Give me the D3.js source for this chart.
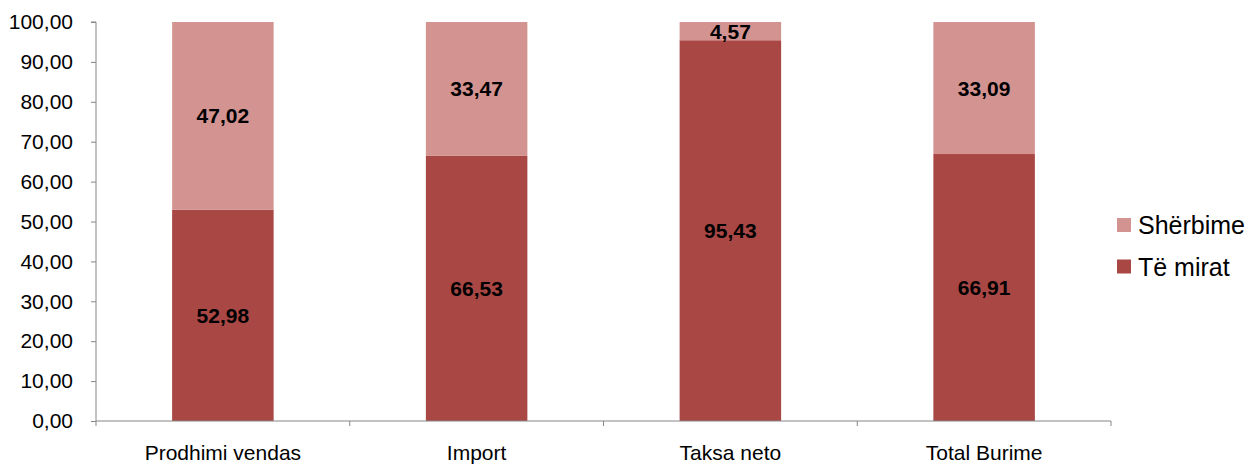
<!DOCTYPE html>
<html>
<head>
<meta charset="utf-8">
<script src="https://cdn.jsdelivr.net/npm/d3@7"></script>
<style>
  body { margin: 0; background: #fff; }
  svg text { font-family: "Liberation Sans", Arial, sans-serif; }
</style>
</head>
<body>
<svg id="chart" width="1254" height="466"></svg>
<script>
// Data.
const categories = ['Prodhimi vendas', 'Import', 'Taksa neto', 'Total Burime'];
const teMirat = [52.98, 66.53, 95.43, 66.91];
const sherbime = [47.02, 33.47, 4.57, 33.09];
const seriesNames = ['Shërbime', 'Të mirat'];
const yTicks = [0, 10, 20, 30, 40, 50, 60, 70, 80, 90, 100];

const colors = {dark: '#a94745', light: '#d39391'};
const margin = {top: 22, left: 96, right: 143, bottom: 45};
const width = 1254 - margin.left - margin.right;
const height = 466 - margin.top - margin.bottom;

const fmt = (v) => v.toFixed(2).replace('.', ',');

const svg = d3.select('#chart');
const g = svg.append('g').attr('transform', `translate(${margin.left}, ${margin.top})`);

const x = d3.scaleBand().domain(categories).range([0, width]).paddingInner(0.6).paddingOuter(0.3);
const y = d3.scaleLinear().domain([0, 100]).range([height, 0]);

// Stack: goods at the bottom, services on top.
const rows = categories.map((c, i) => ({cat: c, base: 0, top: teMirat[i], v: teMirat[i], color: colors.dark}))
  .concat(categories.map((c, i) => ({cat: c, base: teMirat[i], top: teMirat[i] + sherbime[i], v: sherbime[i], color: colors.light})));

g.selectAll('rect.bar').data(rows).join('rect')
  .attr('class', 'bar')
  .attr('x', (d) => x(d.cat))
  .attr('width', x.bandwidth())
  .attr('y', (d) => y(d.top))
  .attr('height', (d) => y(d.base) - y(d.top))
  .attr('fill', (d) => d.color);

g.selectAll('text.val').data(rows).join('text')
  .attr('class', 'val')
  .attr('x', (d) => x(d.cat) + x.bandwidth() / 2)
  .attr('y', (d) => y((d.base + d.top) / 2))
  .attr('dy', '0.36em')
  .attr('text-anchor', 'middle')
  .attr('font-weight', 'bold')
  .attr('font-size', 21)
  .attr('fill', '#000')
  .text((d) => fmt(d.v));

// Y axis.
const yAxis = g.append('g')
  .call(d3.axisLeft(y).tickValues(yTicks).tickFormat(fmt).tickSize(5).tickPadding(18));
yAxis.select('.domain').attr('stroke', '#868686').attr('d', `M-5,0H0V${height}`);
yAxis.selectAll('.tick line').attr('stroke', '#868686');
yAxis.selectAll('text').attr('font-size', 21).attr('fill', '#000');

// X axis with ticks on category boundaries.
const xAxis = g.append('g').attr('transform', `translate(0, ${height})`);
xAxis.append('line').attr('x1', 0).attr('x2', width).attr('stroke', '#868686');
const bounds = d3.range(categories.length + 1).map((i) => i * width / categories.length);
xAxis.selectAll('line.tk').data(bounds).join('line')
  .attr('class', 'tk')
  .attr('x1', (d) => d).attr('x2', (d) => d)
  .attr('y1', 0).attr('y2', 5)
  .attr('stroke', '#868686');
xAxis.selectAll('text').data(categories).join('text')
  .attr('x', (d) => x(d) + x.bandwidth() / 2)
  .attr('y', 39)
  .attr('text-anchor', 'middle')
  .attr('font-size', 21)
  .attr('fill', '#000')
  .text((d) => d);

// Legend.
const legend = svg.append('g').attr('transform', 'translate(1117, 0)');
const legendColors = [colors.light, colors.dark];
seriesNames.forEach((name, i) => {
  const cy = 225 + i * 41.5;
  legend.append('rect').attr('x', 0).attr('y', cy - 7).attr('width', 14).attr('height', 14).attr('fill', legendColors[i]);
  legend.append('text').attr('x', 21).attr('y', cy).attr('dy', '0.36em')
    .attr('font-size', 25).attr('fill', '#000').text(name);
});
</script>
</body>
</html>
